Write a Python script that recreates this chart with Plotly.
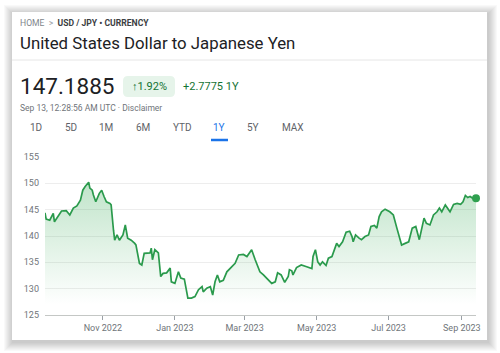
import plotly.graph_objects as go

# ---------------- data ----------------
dates = [
    "2022-09-13", "2022-09-14", "2022-09-17", "2022-09-20", "2022-09-21", "2022-09-24",
    "2022-09-27", "2022-10-01", "2022-10-04", "2022-10-07", "2022-10-10", "2022-10-13",
    "2022-10-15", "2022-10-17", "2022-10-20", "2022-10-21", "2022-10-23", "2022-10-24",
    "2022-10-26", "2022-10-29", "2022-10-31", "2022-11-02", "2022-11-04", "2022-11-07",
    "2022-11-08", "2022-11-10", "2022-11-11", "2022-11-13", "2022-11-15", "2022-11-18",
    "2022-11-20", "2022-11-22", "2022-11-25", "2022-11-28", "2022-11-29", "2022-12-02",
    "2022-12-04", "2022-12-06", "2022-12-11", "2022-12-12", "2022-12-13", "2022-12-15",
    "2022-12-18", "2022-12-20", "2022-12-22", "2022-12-25", "2022-12-28", "2022-12-29",
    "2023-01-01", "2023-01-04", "2023-01-06", "2023-01-09", "2023-01-12", "2023-01-15",
    "2023-01-18", "2023-01-21", "2023-01-24", "2023-01-25", "2023-01-28", "2023-01-31",
    "2023-02-02", "2023-02-04", "2023-02-06", "2023-02-08", "2023-02-11", "2023-02-14",
    "2023-02-18", "2023-02-21", "2023-02-24", "2023-02-28", "2023-03-03", "2023-03-05",
    "2023-03-07", "2023-03-10", "2023-03-12", "2023-03-14", "2023-03-17", "2023-03-21",
    "2023-03-24", "2023-03-27", "2023-03-29", "2023-04-01", "2023-04-04", "2023-04-07",
    "2023-04-08", "2023-04-10", "2023-04-11", "2023-04-14", "2023-04-17", "2023-04-18",
    "2023-04-22", "2023-04-27", "2023-04-28", "2023-04-30", "2023-05-02", "2023-05-04",
    "2023-05-06", "2023-05-09", "2023-05-11", "2023-05-14", "2023-05-18", "2023-05-20",
    "2023-05-23", "2023-05-26", "2023-05-29", "2023-05-31", "2023-06-01", "2023-06-03",
    "2023-06-06", "2023-06-08", "2023-06-11", "2023-06-14", "2023-06-16", "2023-06-19",
    "2023-06-21", "2023-06-23", "2023-06-25", "2023-06-28", "2023-07-02", "2023-07-05",
    "2023-07-08", "2023-07-11", "2023-07-12", "2023-07-15", "2023-07-18", "2023-07-21",
    "2023-07-24", "2023-07-27", "2023-07-28", "2023-07-31", "2023-08-02", "2023-08-05",
    "2023-08-08", "2023-08-11", "2023-08-13", "2023-08-15", "2023-08-18", "2023-08-21",
    "2023-08-22", "2023-08-25", "2023-08-28", "2023-08-31", "2023-09-02", "2023-09-04",
    "2023-09-06", "2023-09-08", "2023-09-10", "2023-09-13",
]
rates = [
    144.4, 143.2, 143.0, 144.3, 142.7, 143.7,
    144.75, 144.8, 144.0, 145.3, 145.7, 146.8,
    148.7, 149.4, 150.2, 149.1, 148.7, 147.8,
    146.5, 148.1, 148.7, 147.5, 146.5, 146.2,
    145.9, 141.1, 139.2, 140.2, 139.2, 140.2,
    142.1, 139.6, 139.2, 138.6, 138.3, 134.8,
    134.5, 136.7, 136.8, 137.7, 135.5, 137.4,
    136.8, 132.3, 132.9, 133.0, 133.9, 131.3,
    131.0, 133.2, 132.0, 131.8, 128.2, 128.2,
    128.5, 129.8, 130.4, 129.4, 130.1, 130.4,
    128.8, 131.3, 132.6, 131.3, 131.6, 133.2,
    134.2, 134.8, 136.4, 136.5, 136.1, 136.8,
    137.4, 135.5, 134.5, 133.2, 132.6, 131.6,
    131.0, 131.3, 133.0, 132.6, 131.2, 132.3,
    133.6, 133.4, 132.6, 134.0, 134.5, 134.5,
    134.2, 133.8, 136.1, 137.4, 135.1, 134.5,
    135.1, 134.4, 135.8, 136.1, 138.6, 138.0,
    138.9, 140.7, 140.9, 139.9, 138.9, 140.2,
    139.6, 139.3, 139.9, 140.2, 141.8, 142.0,
    141.5, 143.7, 144.6, 145.1, 144.6, 144.0,
    141.5, 138.9, 138.3, 138.6, 138.9, 141.5,
    141.8, 139.3, 140.2, 143.4, 142.4, 142.1,
    144.0, 144.6, 145.3, 144.6, 145.9, 144.9,
    144.6, 146.0, 146.2, 146.0, 146.5, 147.7,
    147.3, 147.5, 147.2, 147.1885,
]
x_tick_vals = ["2022-11-01", "2023-01-01", "2023-03-01", "2023-05-01", "2023-07-01", "2023-09-01"]
x_tick_text = ["Nov 2022", "Jan 2023", "Mar 2023", "May 2023", "Jul 2023", "Sep 2023"]
y_tick_vals = [125, 130, 135, 140, 145, 150, 155]
x_range = ["2022-09-13", "2023-09-13"]
y_range = [125, 155]

breadcrumb_home = "HOME"
breadcrumb_rest = "USD / JPY • CURRENCY"
title_text = "United States Dollar to Japanese Yen"
price_text = "147.1885"
pct_text = "↑1.92%"
change_text = "+2.7775 1Y"
date_text = "Sep 13, 12:28:56 AM UTC · Disclaimer"
tabs = ["1D", "5D", "1M", "6M", "YTD", "1Y", "5Y", "MAX"]
active_tab = "1Y"

# ---------------- layout helpers (pixel -> paper) ----------------
W, H = 500, 353
L, R, T, B = 45, 24, 157, 38
PW, PH = W - L - R, H - T - B


def px(x):
    return (x - L) / PW


def py(y):
    return (H - B - y) / PH


GREEN_LINE = "#2a9a4c"
FONT = "Roboto"

fig = go.Figure()
fig.add_trace(go.Scatter(
    x=dates, y=rates, mode="lines",
    line=dict(color=GREEN_LINE, width=1.7),
    fill="tozeroy",
    fillgradient=dict(type="vertical",
                      colorscale=[[0, "rgba(52,168,83,0)"], [1, "rgba(52,168,83,0.32)"]],
                      start=127, stop=151),
    hoverinfo="skip", showlegend=False,
))
fig.add_trace(go.Scatter(
    x=[dates[-1]], y=[rates[-1]], mode="markers",
    marker=dict(color="#2fa04f", size=8),
    cliponaxis=False, hoverinfo="skip", showlegend=False,
))

shapes = []
# soft card shadow
for i in range(9, 0, -1):
    shapes.append(dict(type="rect", xref="paper", yref="paper",
                       x0=px(12 - i + 1), x1=px(487 + i + 1),
                       y0=py(12 - i + 2), y1=py(340 + i + 2),
                       line=dict(width=0), fillcolor="rgba(0,0,0,0.022)", layer="below"))
# card
shapes.append(dict(type="rect", xref="paper", yref="paper",
                   x0=px(12), x1=px(487), y0=py(12), y1=py(340),
                   line=dict(width=0), fillcolor="white", layer="below"))
# divider under title
shapes.append(dict(type="line", xref="paper", yref="paper",
                   x0=px(12), x1=px(487), y0=py(60), y1=py(60),
                   line=dict(color="#e6e6e6", width=1), layer="below"))


# rounded pill
def rounded_rect(x0, y0, x1, y1, r):
    X = lambda v: px(v)
    Y = lambda v: py(v)
    return (f"M {X(x0 + r)} {Y(y0)} L {X(x1 - r)} {Y(y0)} Q {X(x1)} {Y(y0)} {X(x1)} {Y(y0 + r)} "
            f"L {X(x1)} {Y(y1 - r)} Q {X(x1)} {Y(y1)} {X(x1 - r)} {Y(y1)} "
            f"L {X(x0 + r)} {Y(y1)} Q {X(x0)} {Y(y1)} {X(x0)} {Y(y1 - r)} "
            f"L {X(x0)} {Y(y0 + r)} Q {X(x0)} {Y(y0)} {X(x0 + r)} {Y(y0)} Z")


shapes.append(dict(type="path", xref="paper", yref="paper",
                   path=rounded_rect(123, 76, 175, 97, 5),
                   line=dict(width=0), fillcolor="#e6f4ea", layer="below"))
# active tab underline
shapes.append(dict(type="line", xref="paper", yref="paper",
                   x0=px(211), x1=px(228), y0=py(140), y1=py(140),
                   line=dict(color="#1a73e8", width=2.5), layer="above"))

ann = []


def text(x, y, s, size, color, anchor="left"):
    ann.append(dict(x=px(x), y=py(y), xref="paper", yref="paper", text=s,
                    showarrow=False, xanchor=anchor, yanchor="middle",
                    font=dict(family=FONT, size=size, color=color)))


text(18, 23, f"<span style='color:#80868b'>{breadcrumb_home}</span>"
             f"<span style='color:#9aa0a6'>  &gt;  </span><b>{breadcrumb_rest}</b>", 8.6, "#3c4043")
text(18, 43, title_text, 16.8, "#202124")
text(18, 86, price_text, 22.5, "#202124")
text(149, 86.5, pct_text, 11, "#137333", anchor="center")
text(181, 86.5, change_text, 11, "#137333")
text(18, 108, date_text, 8.5, "#70757a")
tab_x = [36, 71, 106, 143, 182, 219, 253, 293]
for t, xx in zip(tabs, tab_x):
    text(xx, 128, t, 10, "#1a73e8" if t == active_tab else "#5f6368", anchor="center")

fig.update_layout(
    width=W, height=H,
    margin=dict(l=L, r=R, t=T, b=B, pad=0),
    paper_bgcolor="white", plot_bgcolor="rgba(0,0,0,0)",
    shapes=shapes, annotations=ann,
    font=dict(family=FONT, size=9, color="#70757a"),
    xaxis=dict(type="date", range=x_range, tickvals=x_tick_vals, ticktext=x_tick_text,
               showgrid=False, showline=True, linecolor="#c4c7c5", linewidth=1,
               ticks="outside", ticklen=4, tickcolor="#9aa0a6", tickwidth=1,
               tickfont=dict(size=9, color="#70757a"), zeroline=False, fixedrange=True),
    yaxis=dict(range=y_range, tickvals=y_tick_vals, showgrid=True, gridcolor="#ededed",
               gridwidth=1, zeroline=False, showline=False, ticks="",
               tickfont=dict(size=9, color="#70757a"), ticklabelstandoff=5, fixedrange=True),
    showlegend=False,
)

fig.write_html("out.html")
